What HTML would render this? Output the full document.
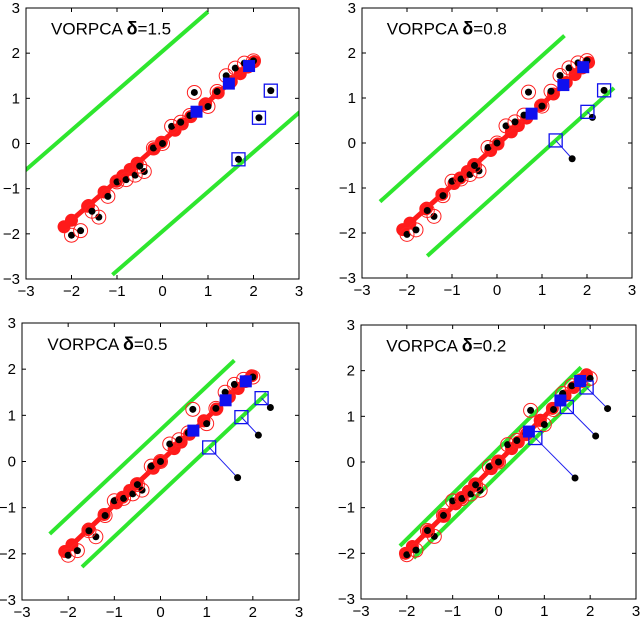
<!DOCTYPE html>
<html><head><meta charset="utf-8"><style>
html,body{margin:0;padding:0;background:#fff;}
svg{display:block;font-family:"Liberation Sans",Arial,sans-serif;}
</style></head><body>
<svg id="fig" width="640" height="618" viewBox="0 0 640 618" xmlns="http://www.w3.org/2000/svg"></svg>
<script>
// ---- data ----
const deltas = [1.5, 0.8, 0.5, 0.2];
const titles = ["VORPCA ", "VORPCA ", "VORPCA ", "VORPCA "];
const ptsX = [-2.0,-1.8,-1.4,-1.55,-1.2,-1.0,-0.8,-0.6,-0.4,-0.5,-0.2,0.0,0.2,0.4,0.6,0.7,1.0,1.2,1.4,1.6,1.8,2.0];
const ptsY = [-2.03,-1.93,-1.63,-1.5,-1.17,-0.85,-0.8,-0.7,-0.62,-0.5,-0.1,0.0,0.38,0.47,0.62,1.13,0.82,1.15,1.5,1.67,1.78,1.83];
const outX = [2.38, 2.12, 1.67];
const outY = [1.17, 0.57, -0.35];
const slopes = [0.875, 0.90, 0.94, 0.99];
const intercepts = [0.05, -0.04, 0.0, 0.01];
const upperStart = [-3.3, -2.6, -2.4, -2.15];
const upperEnd = [1.0, 1.5, 1.6, 1.8];
const lowerStart = [-1.1, -1.55, -1.7, -1.85];
const lowerEnd = [3.3, 2.6, 2.3, 2.0];
const tickVals = [-3,-2,-1,0,1,2,3];
const tickLabels = ["\u22123","\u22122","\u22121","0","1","2","3"];
// ---- layout ----
const boxes = [[26,8,299,279],[362,8,632,278],[22,323,299,600],[361,325,636,599]];
const NS = "http://www.w3.org/2000/svg";
const svg = document.getElementById('fig');
function mk(tag, attrs, parent){const e=document.createElementNS(NS,tag);for(const k in attrs)e.setAttribute(k,attrs[k]);(parent||svg).appendChild(e);return e;}

boxes.forEach((b,p)=>{
  const [L,T,R,B]=b;
  const sx=v=>L+(v+3)/6*(R-L);
  const sy=v=>B-(v+3)/6*(B-T);
  const g=mk('g',{});
  
  
  const cp=mk('clipPath',{id:'c'+p},g);
  mk('rect',{x:L,y:T,width:R-L,height:B-T},cp);
  const m=slopes[p], c=intercepts[p], d=deltas[p];
  const off=d*Math.sqrt(1+m*m);
  const plot=mk('g',{'clip-path':'url(#c'+p+')'},g);
  [[upperStart[p],upperEnd[p],c+off,'upper'],[lowerStart[p],lowerEnd[p],c-off,'lower']].forEach(s=>{
    const ln=mk('line',{x1:sx(s[0]),y1:sy(m*s[0]+s[2]),x2:sx(s[1]),y2:sy(m*s[1]+s[2]),stroke:'#2ee62e','stroke-width':4},plot);
    
    
  });
  const n=Math.sqrt(1+m*m);
  function proj(x,y,b){const t=(x+(y-b)*m)/(n*n);return [t,m*t+b];}
  const projs=ptsX.map((x,i)=>proj(x,ptsY[i],c)).sort((a,b)=>a[0]-b[0]);
  const pl=mk('polyline',{points:projs.map(q=>sx(q[0])+','+sy(q[1])).join(' '),fill:'none',stroke:'#ff1a1a','stroke-width':5},plot);
  
  
  ptsX.forEach((x,i)=>{
    const q=proj(x,ptsY[i],c);
    const r=mk('circle',{cx:sx(q[0]),cy:sy(q[1]),r:6.5,fill:'#ff1a1a'},plot);
    
    
  });
  ptsX.forEach((x,i)=>{
    const k=mk('circle',{cx:sx(x),cy:sy(ptsY[i]),r:3.5,fill:'#000'},plot);
    
    
    const o=mk('circle',{cx:sx(x),cy:sy(ptsY[i]),r:7,fill:'none',stroke:'#ff2020','stroke-width':1},plot);
    
    
  });
  outX.forEach((x,i)=>{
    const y=outY[i];
    const q=proj(x,y,c);
    const dist=(y-(m*x+c))/n;
    let e=[x,y];
    if(Math.abs(dist)>d){const bb=dist<0?c-off:c+off;e=proj(x,y,bb);}
    const bf=mk('rect',{x:sx(q[0])-6,y:sy(q[1])-6,width:12,height:12,fill:'#1010ee'},plot);
    
    
    const cl=mk('line',{x1:sx(x),y1:sy(y),x2:sx(e[0]),y2:sy(e[1]),stroke:'#2020ee','stroke-width':1},plot);
    
    
    const k=mk('circle',{cx:sx(x),cy:sy(y),r:3.5,fill:'#000'},plot);
    
    
    const bo=mk('rect',{x:sx(e[0])-6.5,y:sy(e[1])-6.5,width:13,height:13,fill:'none',stroke:'#1010ee','stroke-width':1.3},plot);
    
    
  });
  const ax=mk('rect',{x:L,y:T,width:R-L,height:B-T,fill:'none',stroke:'#000','stroke-width':1},g);
  
  
  tickVals.forEach((v,i)=>{
    const X=sx(v),Y=sy(v);
    mk('line',{x1:X,y1:B,x2:X,y2:B-4,stroke:'#000'},g);
    mk('line',{x1:X,y1:T,x2:X,y2:T+4,stroke:'#000'},g);
    mk('line',{x1:L,y1:Y,x2:L+4,y2:Y,stroke:'#000'},g);
    mk('line',{x1:R,y1:Y,x2:R-4,y2:Y,stroke:'#000'},g);
    const xt=mk('text',{x:X,y:B+17,'text-anchor':'middle','font-size':15,fill:'#000'},g);
    xt.textContent=tickLabels[i];
    
    
    const yt=mk('text',{x:L-6,y:Y+5,'text-anchor':'end','font-size':15,fill:'#000'},g);
    yt.textContent=tickLabels[i];
    
    
  });
  const t=mk('text',{x:sx(-2.45),y:sy(2.55)+6,'font-size':17,fill:'#000'},g);
  
  
  t.appendChild(document.createTextNode(titles[p]));
  const ts=mk('tspan',{'font-weight':'bold','font-size':18},t);
  ts.textContent='\u03b4';
  t.appendChild(document.createTextNode('='+deltas[p]));
});
</script>
</body></html>
